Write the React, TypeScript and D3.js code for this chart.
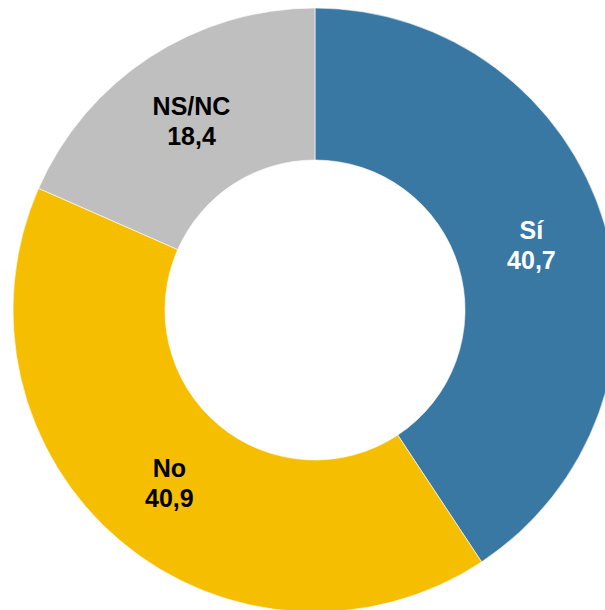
import React, { useEffect, useRef } from 'react';
import * as d3 from 'd3';

interface Slice {
  label: string;
  value: number;
}

const labels = ['Sí', 'No', 'NS/NC'];
const values = [40.7, 40.9, 18.4];
const colors = ['#3A78A4', '#F6BE00', '#BFBFBF'];
const textColors = ['#FFFFFF', '#000000', '#000000'];

const App: React.FC = () => {
  const svgRef = useRef<SVGSVGElement>(null);

  useEffect(() => {
    document.body.style.margin = '0';
    if (!svgRef.current) return;

    const width = 605;
    const height = 610;
    const cx = 315;
    const cy = 310;
    const outerR = 302;
    const innerR = 150;

    const data: Slice[] = labels.map((l, i) => ({ label: l, value: values[i] }));

    const svg = d3.select(svgRef.current);
    svg.selectAll('*').remove();
    svg.attr('width', width).attr('height', height);

    const g = svg.append('g').attr('transform', `translate(${cx},${cy})`);

    const pie = d3.pie<Slice>().value(d => d.value).sort(null);
    const arc = d3.arc<d3.PieArcDatum<Slice>>().innerRadius(innerR).outerRadius(outerR);

    const arcs = pie(data);

    g.selectAll('path')
      .data(arcs)
      .enter()
      .append('path')
      .attr('d', arc)
      .attr('fill', (_, i) => colors[i])
      .attr('stroke', '#ffffff')
      .attr('stroke-width', 0.6);

    // Labels at arc centroids, two lines
    const lbl = g.selectAll('g.lbl')
      .data(arcs)
      .enter()
      .append('g')
      .attr('class', 'lbl')
      .attr('transform', d => `translate(${arc.centroid(d)})`)
      .attr('font-family', 'Liberation Sans, Arial, sans-serif')
      .attr('font-weight', 'bold')
      .attr('font-size', 25)
      .attr('text-anchor', 'middle')
      .attr('fill', (_, i) => textColors[i]);

    lbl.append('text')
      .attr('y', -5.5)
      .text(d => d.data.label);

    lbl.append('text')
      .attr('y', 24.5)
      .text(d => d3.format('.1f')(d.data.value).replace('.', ','));
  }, []);

  return (
    <div>
      <svg ref={svgRef} style={{ display: 'block' }} />
    </div>
  );
};

export default App;
